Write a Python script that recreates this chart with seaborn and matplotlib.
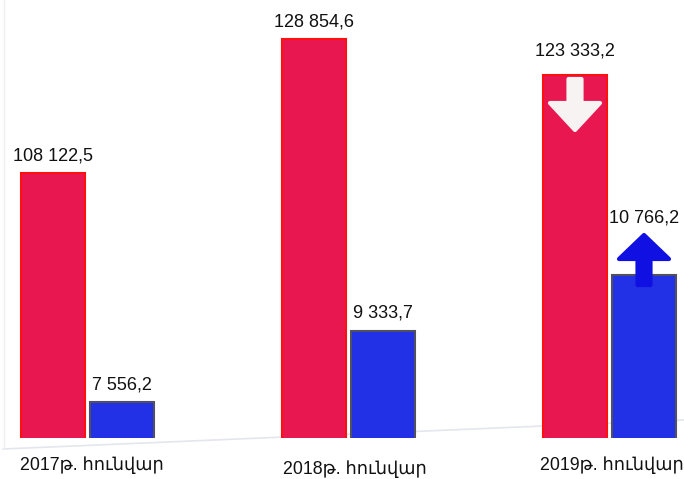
import numpy as np
import pandas as pd
import matplotlib
matplotlib.use("Agg")
import matplotlib.pyplot as plt
from matplotlib.patches import FancyArrow
import seaborn as sns

# values
periods = ["2017թ. հունվար", "2018թ. հունվար", "2019թ. հունվար"]
red_values = [108122.5, 128854.6, 123333.2]
blue_values = [7556.2, 9333.7, 10766.2]
red_labels = ["108 122,5", "128 854,6", "123 333,2"]
blue_labels = ["7 556,2", "9 333,7", "10 766,2"]

RED = "#E8174F"
RED_EDGE = "#FF1010"
BLUE = "#2230E6"
BLUE_EDGE = "#505060"

sns.set_theme(style="white")
plt.rcParams["font.family"] = ["Liberation Sans", "DejaVu Sans"]

W, H = 684, 479
fig = plt.figure(figsize=(W / 100, H / 100), dpi=100)
ax1 = fig.add_axes([0, 41 / H, 1, 438 / H])
ax2 = ax1.twinx()

pos = np.arange(len(periods))
off = 0.133
bw = 0.245

df_red = pd.DataFrame({"x": pos - off, "v": red_values})
df_blue = pd.DataFrame({"x": pos + off, "v": blue_values})

sns.barplot(data=df_red, x="x", y="v", native_scale=True, width=bw, color=RED,
            saturation=1, edgecolor=RED_EDGE, linewidth=1.5, errorbar=None, ax=ax1)
sns.barplot(data=df_blue, x="x", y="v", native_scale=True, width=bw, color=BLUE,
            saturation=1, edgecolor=BLUE_EDGE, linewidth=1.5, errorbar=None, ax=ax2)

# separate, non-zero-based scales for the two series (as in the original)
ax1.set_ylim(67208, 134895)
ax2.set_ylim(6638, 17721)
for a in (ax1, ax2):
    a.set_xlim(-0.335, 2.285)
    a.set_xlabel("")
    a.set_ylabel("")
    a.set_yticks([])
    a.set_xticks([])
    for s in a.spines.values():
        s.set_visible(False)
    a.patch.set_alpha(0)

# value labels
red_pad = [6, 6, 11]
blue_pad = [6, 7, 35]
for i in range(len(periods)):
    ax1.annotate(red_labels[i], (pos[i] - off, red_values[i]), xytext=(0, red_pad[i]),
                 textcoords="offset points", ha="center", va="bottom", fontsize=13,
                 color="#111111", annotation_clip=False)
    ax2.annotate(blue_labels[i], (pos[i] + off, blue_values[i]), xytext=(0, blue_pad[i]),
                 textcoords="offset points", ha="center", va="bottom", fontsize=13,
                 color="#111111", annotation_clip=False)

# category labels (floor is slightly tilted)
label_dx = [0.017, 0.025, 0.008]
label_dy = [-27, -31, -27]
for i, name in enumerate(periods):
    ax1.annotate(name, (pos[i] + label_dx[i], 0), xycoords=("data", "axes fraction"),
                 xytext=(0, label_dy[i] * 0.72), textcoords="offset points",
                 ha="center", va="center", fontsize=12.8, color="#111111",
                 annotation_clip=False)

# faint perspective floor / wall lines
fig.add_artist(plt.Line2D([3 / W, 684 / W], [1 - 449 / H, 1 - 420 / H],
                          color="#e4e6ee", lw=1.2, transform=fig.transFigure, zorder=0))
fig.add_artist(plt.Line2D([4 / W, 4 / W], [1 - 449 / H, 1.0],
                          color="#eceef2", lw=1.0, transform=fig.transFigure, zorder=0))

# trend arrows on 2019 bars (pixel layout, converted to inches)
def px_arrow(x, y_tail, y_tip, shaft, head_w, head_l, color):
    xi = x / 100
    yt = (H - y_tail) / 100
    dy = (y_tail - y_tip) / 100
    arr = FancyArrow(xi, yt, 0, dy, width=shaft / 100, head_width=head_w / 100,
                     head_length=head_l / 100, length_includes_head=True,
                     transform=fig.dpi_scale_trans, facecolor=color, edgecolor=color,
                     linewidth=3, joinstyle="round", capstyle="round", zorder=10)
    fig.add_artist(arr)

px_arrow(575, 79, 130, 13, 50, 27, "#F7F3F3")
px_arrow(644, 285, 235, 13, 50, 24, "#1010E2")

fig.savefig("out.png", dpi=100)
